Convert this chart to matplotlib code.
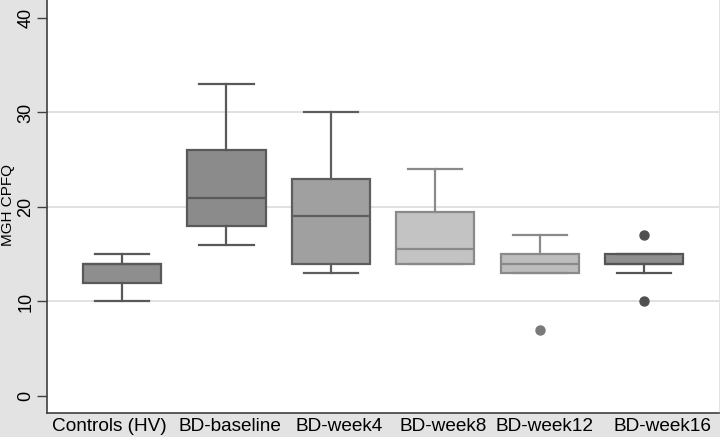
import matplotlib
matplotlib.use("Agg")
from matplotlib import pyplot as plt

# values
groups = ["Controls (HV)", "BD-baseline", "BD-week4", "BD-week8", "BD-week12", "BD-week16"]
q1 = [12, 18, 14, 14, 13, 14]
medians = [14, 21, 19, 15.5, 14, 14]
q3 = [14, 26, 23, 19.5, 15, 15]
whisker_low = [10, 16, 13, 14, 13, 13]
whisker_high = [15, 33, 30, 24, 17, 15]
outliers = [[], [], [], [], [7], [10, 17]]

box_colors = ["#8e8e8e", "#8b8b8b", "#a0a0a0", "#c3c3c3", "#bdbdbd", "#8f8f8f"]
edge_colors = ["#595959", "#595959", "#5e5e5e", "#8a8a8a", "#8a8a8a", "#555555"]
flier_colors = ["#555555", "#555555", "#555555", "#777777", "#7a7a7a", "#505050"]
# the x labels are spread evenly by the original program, not centred under boxes
label_shift_px = [-13, 4, 8, 8, 5, 18]

plt.rcParams["font.family"] = ["Liberation Sans", "DejaVu Sans"]

fig = plt.figure(figsize=(7.2, 4.37), dpi=100)
fig.patch.set_facecolor("#e3e3e3")
ax = fig.add_axes([0.065, 0.055, 0.934, 0.945])
ax.set_facecolor("white")

stats = []
for i, name in enumerate(groups):
    stats.append({
        "label": name,
        "q1": q1[i],
        "med": medians[i],
        "q3": q3[i],
        "whislo": whisker_low[i],
        "whishi": whisker_high[i],
        "fliers": outliers[i],
    })

positions = list(range(1, len(groups) + 1))
for i, st in enumerate(stats):
    ec = edge_colors[i]
    ax.bxp(
        [st],
        positions=[positions[i]],
        widths=0.75,
        patch_artist=True,
        boxprops={"facecolor": box_colors[i], "edgecolor": ec, "linewidth": 1.6},
        medianprops={"color": ec, "linewidth": 1.6},
        whiskerprops={"color": ec, "linewidth": 1.6},
        capprops={"color": ec, "linewidth": 1.6},
        capwidths=0.52,
        flierprops={"marker": "o", "markerfacecolor": flier_colors[i],
                    "markeredgecolor": flier_colors[i], "markersize": 6.5},
        zorder=3,
    )

ax.set_xlim(0.28, 6.72)
ax.set_ylim(-1.8, 41.9)
ax.set_yticks([0, 10, 20, 30, 40])
ax.set_yticklabels(["0", "10", "20", "30", "40"], rotation=90, va="center", fontsize=13)
ax.set_xticks(positions)
ax.set_xticklabels([])
ax.tick_params(axis="x", length=0)
ax.tick_params(axis="y", length=7, width=1, color="#404040", pad=2)

# category labels drawn by hand so each can be nudged like the original
for pos, name, dx in zip(positions, groups, label_shift_px):
    ax.annotate(name, xy=(pos, 0), xycoords=("data", "axes fraction"),
                xytext=(dx, -5), textcoords="offset pixels",
                ha="center", va="top", fontsize=13.7, annotation_clip=False)

# y label sits close to the figure edge, as in the reference
fig.text(8.5 / 720, 0.53, "MGH CPFQ", rotation=90, ha="center", va="center", fontsize=11)

for y in [10, 20, 30]:
    ax.axhline(y, color="#dcdcdc", linewidth=1.2, zorder=1)

for side in ["top", "right"]:
    ax.spines[side].set_visible(False)
for side in ["left", "bottom"]:
    ax.spines[side].set_color("#404040")
    ax.spines[side].set_linewidth(1.2)

fig.savefig("out.png", dpi=100, facecolor=fig.get_facecolor())
